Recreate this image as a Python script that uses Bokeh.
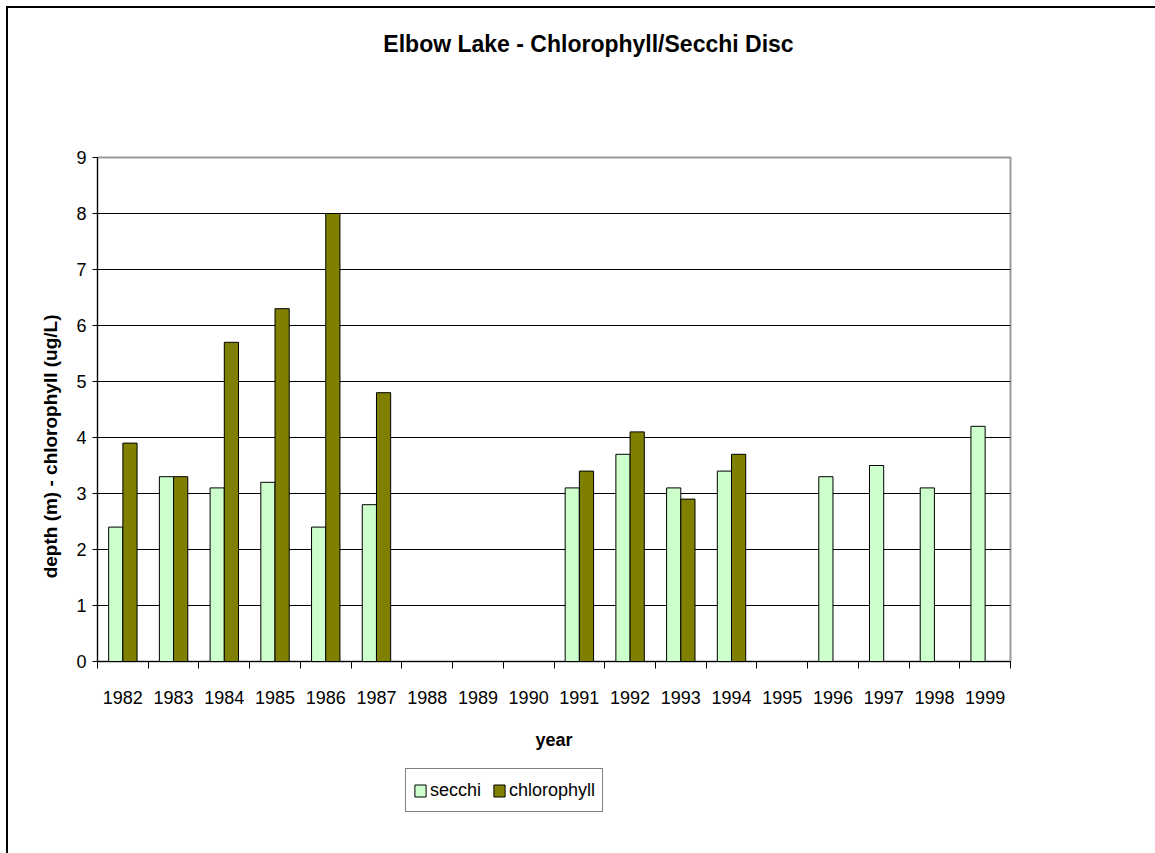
import numpy as np
from bokeh.plotting import figure
from bokeh.layouts import column
from bokeh.models import ColumnDataSource, FixedTicker, Legend, LegendItem, Label
from bokeh.transform import dodge
from bokeh.embed import file_html
from bokeh.resources import INLINE

# Elbow Lake annual means
years = ["1982", "1983", "1984", "1985", "1986", "1987", "1988", "1989", "1990",
         "1991", "1992", "1993", "1994", "1995", "1996", "1997", "1998", "1999"]
secchi = [2.4, 3.3, 3.1, 3.2, 2.4, 2.8, None, None, None,
          3.1, 3.7, 3.1, 3.4, None, 3.3, 3.5, 3.1, 4.2]
chlorophyll = [3.9, 3.3, 5.7, 6.3, 8.0, 4.8, None, None, None,
               3.4, 4.1, 2.9, 3.7, None, None, None, None, None]
y_ticks = [0, 1, 2, 3, 4, 5, 6, 7, 8, 9]

TITLE = "Elbow Lake - Chlorophyll/Secchi Disc"
FONT = "Liberation Sans"
SECCHI_COLOR = "#CCFFCC"
CHL_COLOR = "#808000"

PAGE_W = 1155
TOP_H, CHART_H, LEG_H = 100, 660, 93
FRAME_L, FRAME_R = 97, 1010          # plot-area edges on the page

n = len(years)
centers = [i + 0.5 for i in range(n)]
bounds = list(range(n + 1))


def as_float(vals):
    return [np.nan if v is None else float(v) for v in vals]


def blank_figure(height):
    """Axis-less strip; the column lines its frame up with the chart's."""
    f = figure(width=PAGE_W, height=height,
               x_range=(0, FRAME_R - FRAME_L), y_range=(0, height),
               output_backend="svg", toolbar_location=None,
               x_axis_location=None, y_axis_location=None,
               min_border=0, outline_line_color=None,
               background_fill_alpha=0, border_fill_alpha=0)
    f.grid.grid_line_color = None
    return f


# ---- title strip
head = blank_figure(TOP_H)
head.add_layout(Label(x=588 - FRAME_L, y=TOP_H - 43, x_units="screen", y_units="screen",
                      text=TITLE, text_align="center", text_baseline="middle",
                      text_font=FONT, text_font_size="23px", text_font_style="bold",
                      text_color="black"))

# ---- bar chart
src = ColumnDataSource(dict(x=centers, secchi=as_float(secchi),
                            chlorophyll=as_float(chlorophyll)))

chart = figure(width=PAGE_W, height=CHART_H,
               x_range=(0, n), y_range=(y_ticks[0], y_ticks[-1]),
               output_backend="svg", toolbar_location=None,
               min_border_left=FRAME_L, min_border_right=PAGE_W - FRAME_R,
               min_border_top=157 - TOP_H, min_border_bottom=TOP_H + CHART_H - 661,
               background_fill_color="white", border_fill_alpha=0,
               outline_line_color="#999999", outline_line_width=2)

bar_style = dict(width=0.28, line_color="black", line_width=1)
chart.vbar(x=dodge("x", -0.14), top="secchi", source=src,
           fill_color=SECCHI_COLOR, **bar_style)
chart.vbar(x=dodge("x", 0.14), top="chlorophyll", source=src,
           fill_color=CHL_COLOR, **bar_style)

# x axis: labels at category centres, tick marks between categories
xa = chart.xaxis[0]
xa.ticker = FixedTicker(ticks=centers, minor_ticks=bounds)
xa.major_label_overrides = {c: y for c, y in zip(centers, years)}
xa.major_tick_in = 0
xa.major_tick_out = 0
xa.minor_tick_in = 0
xa.minor_tick_out = 7
xa.minor_tick_line_color = "black"
xa.axis_line_color = "black"
xa.major_label_standoff = 22
xa.major_label_text_font = FONT
xa.major_label_text_font_size = "18px"
xa.major_label_text_color = "black"
xa.axis_label = "year"
xa.axis_label_text_font = FONT
xa.axis_label_text_font_size = "18px"
xa.axis_label_text_font_style = "bold"
xa.axis_label_text_color = "black"
xa.axis_label_standoff = 23

# y axis
ya = chart.yaxis[0]
ya.ticker = FixedTicker(ticks=y_ticks)
ya.major_tick_in = 0
ya.major_tick_out = 5
ya.minor_tick_line_color = None
ya.axis_line_color = "black"
ya.major_label_standoff = 6
ya.major_label_text_font = FONT
ya.major_label_text_font_size = "18px"
ya.major_label_text_color = "black"
# trailing no-break spaces set the title a little below the axis centre
ya.axis_label = "depth (m) - chlorophyll (ug/L)" + "\u00a0" * 14
ya.axis_label_text_font = FONT
ya.axis_label_text_font_size = "19px"
ya.axis_label_text_font_style = "bold"
ya.axis_label_text_color = "black"
ya.axis_label_standoff = 12

chart.xgrid.grid_line_color = None
chart.ygrid.ticker = FixedTicker(ticks=y_ticks[1:-1])
chart.ygrid.grid_line_color = "black"
chart.ygrid.grid_line_width = 1

# ---- legend strip (stand-in renderers carry the series styles, off-frame)
foot = blank_figure(LEG_H)
proxy = ColumnDataSource(dict(x=[-100.0], top=[0.0]))
leg_s = foot.vbar(x="x", top="top", width=1, source=proxy,
                  fill_color=SECCHI_COLOR, line_color="black")
leg_c = foot.vbar(x="x", top="top", width=1, source=proxy,
                  fill_color=CHL_COLOR, line_color="black")
legend = Legend(items=[LegendItem(label="secchi", renderers=[leg_s]),
                       LegendItem(label="chlorophyll", renderers=[leg_c])],
                orientation="horizontal", location=(405 - FRAME_L, 853 - 812), margin=0,
                border_line_color="black", border_line_width=1,
                background_fill_color="white", background_fill_alpha=1,
                label_text_font=FONT, label_text_font_size="18px",
                label_text_color="black",
                glyph_width=14, glyph_height=15, label_standoff=3,
                spacing=11, padding=7, label_height=28)
foot.add_layout(legend, "center")

# chart-area frame: black rules along the top and left edges
p = column(head, chart, foot, spacing=0,
           styles={"background-image": "linear-gradient(#000, #000), linear-gradient(#000, #000)",
                   "background-repeat": "no-repeat",
                   "background-position": "6px 6px, 6px 6px",
                   "background-size": "1149px 2px, 2px 847px"})

open("out.html", "w").write(file_html(p, INLINE))
